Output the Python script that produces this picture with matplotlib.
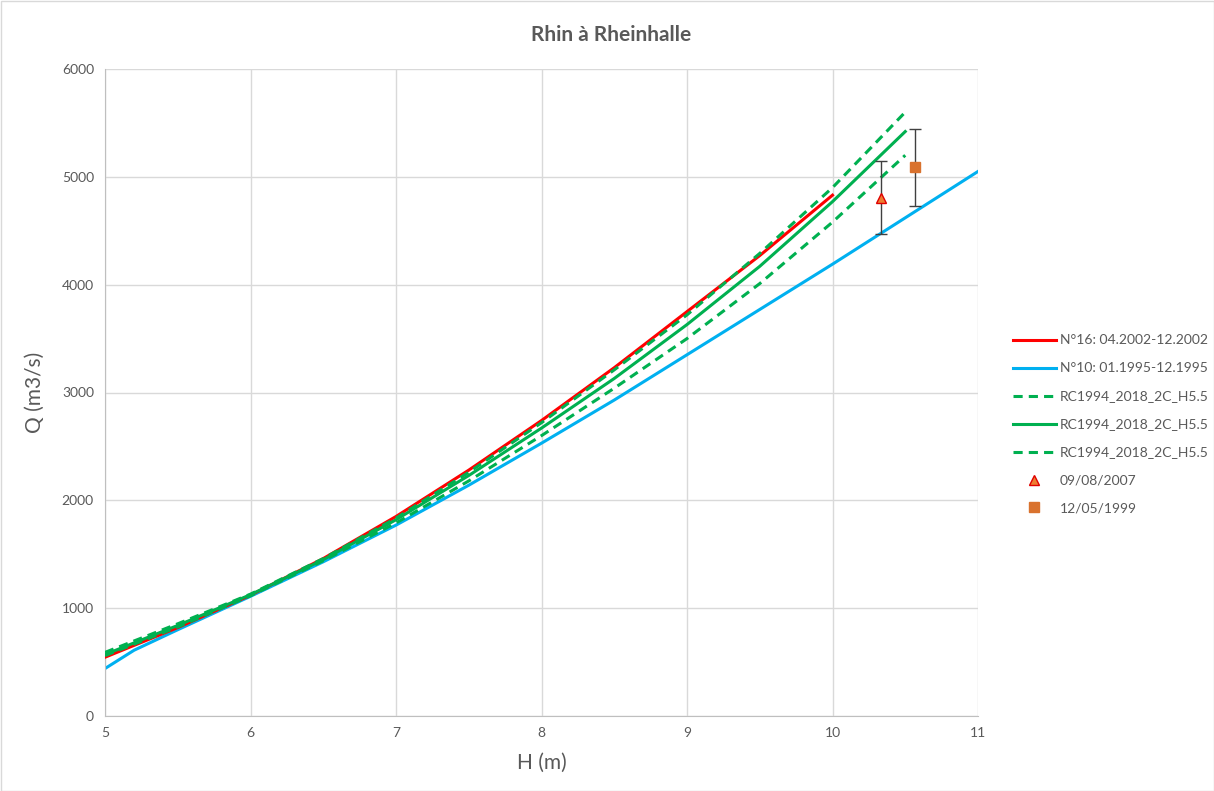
import matplotlib
matplotlib.use("Agg")
import matplotlib.pyplot as plt
from matplotlib.patches import Rectangle

plt.rcParams['font.family'] = ['Lato', 'DejaVu Sans']

# Data
H_blue = [5.0, 5.2, 5.5, 6.0, 6.5, 7.0, 7.5, 8.0, 8.5, 9.0, 9.5, 10.0, 10.5, 11.0]
Q_blue = [440, 610, 800, 1110, 1430, 1770, 2140, 2530, 2930, 3350, 3770, 4190, 4620, 5050]

H_red = [5.0, 5.5, 6.0, 6.5, 7.0, 7.5, 8.0, 8.5, 9.0, 9.5, 10.0]
Q_red = [545, 820, 1120, 1460, 1850, 2280, 2740, 3230, 3750, 4270, 4830]

H_green = [5.0, 5.5, 6.0, 6.5, 7.0, 7.5, 8.0, 8.5, 9.0, 9.5, 10.0, 10.5]
Q_green_up = [590, 855, 1130, 1460, 1835, 2260, 2720, 3210, 3720, 4290, 4900, 5600]
Q_green_mid = [570, 840, 1125, 1450, 1820, 2230, 2670, 3130, 3630, 4170, 4770, 5420]
Q_green_low = [560, 825, 1115, 1440, 1790, 2180, 2600, 3040, 3500, 4010, 4580, 5200]

pt1_H, pt1_Q, pt1_lo, pt1_hi = 10.33, 4805, 4470, 5150
pt2_H, pt2_Q, pt2_lo, pt2_hi = 10.57, 5090, 4727, 5444

labels = ["N°16: 04.2002-12.2002", "N°10: 01.1995-12.1995",
          "RC1994_2018_2C_H5.5", "RC1994_2018_2C_H5.5", "RC1994_2018_2C_H5.5",
          "09/08/2007", "12/05/1999"]

grey = '#595959'
fig = plt.figure(figsize=(12.14, 7.91), dpi=100)
ax = fig.add_axes([105/1214, 1-716/791, (978-105)/1214, (716-69)/791])

ax.plot(H_red, Q_red, color='#FF0000', lw=2.2, label=labels[0], zorder=3)
ax.plot(H_blue, Q_blue, color='#00B0F0', lw=2.2, label=labels[1], zorder=2)
ax.plot(H_green, Q_green_up, color='#00B050', lw=2.2, ls=(0, (3, 2)), label=labels[2], zorder=4)
ax.plot(H_green, Q_green_mid, color='#00B050', lw=2.2, label=labels[3], zorder=4)
ax.plot(H_green, Q_green_low, color='#00B050', lw=2.2, ls=(0, (3, 2)), label=labels[4], zorder=4)

ax.errorbar([pt1_H], [pt1_Q], yerr=[[pt1_Q - pt1_lo], [pt1_hi - pt1_Q]], fmt='none',
            ecolor='#404040', elinewidth=1, capsize=4, capthick=1, zorder=5)
ax.errorbar([pt2_H], [pt2_Q], yerr=[[pt2_Q - pt2_lo], [pt2_hi - pt2_Q]], fmt='none',
            ecolor='#404040', elinewidth=1, capsize=4, capthick=1, zorder=5)
ax.plot([pt1_H], [pt1_Q], ls='none', marker='^', ms=7, mfc='#ED7D31', mec='#E00000',
        mew=1, label=labels[5], zorder=6)
ax.plot([pt2_H], [pt2_Q], ls='none', marker='s', ms=7, mfc='#D9722E', mec='#D9722E',
        label=labels[6], zorder=6)

ax.set_xlim(5, 11)
ax.set_ylim(0, 6000)
ax.set_xticks(range(5, 12))
ax.set_yticks(range(0, 6001, 1000))
ax.grid(True, color='#D9D9D9', lw=1)
ax.set_axisbelow(True)
for s in ['top', 'right']:
    ax.spines[s].set_visible(False)
for s in ['left', 'bottom']:
    ax.spines[s].set_color('#BFBFBF')
ax.tick_params(length=0, labelsize=10, colors=grey, pad=8)

ax.set_xlabel("H (m)", fontsize=15, color=grey, labelpad=10)
ax.set_ylabel("Q (m3/s)", fontsize=15, color=grey, labelpad=12)
fig.text(611/1214, 1-35/791, "Rhin à Rheinhalle", ha='center', va='center',
         fontsize=15, fontweight='bold', color=grey)

leg = fig.legend(loc='upper left', bbox_to_anchor=(1000/1214, 1-322/791), frameon=False,
                 fontsize=10, labelcolor=grey, handlelength=3.1, labelspacing=1.15,
                 handletextpad=0.3)

fig.add_artist(Rectangle((0.5/1214, 0.5/791), 1-1/1214, 1-1/791, transform=fig.transFigure,
                         fill=False, ec='#D9D9D9', lw=1))

fig.savefig("out.png", dpi=100)
